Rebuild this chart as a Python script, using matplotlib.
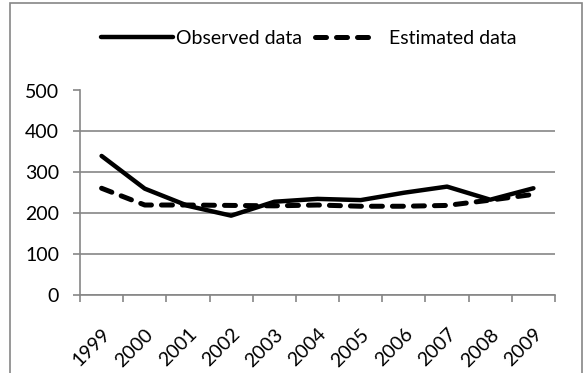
import matplotlib
matplotlib.use("Agg")
import matplotlib.pyplot as plt
import matplotlib.transforms as mtransforms
from matplotlib.patches import Rectangle
from matplotlib.lines import Line2D
import numpy as np

years = ["1999", "2000", "2001", "2002", "2003", "2004", "2005", "2006", "2007", "2008", "2009"]
observed = [340, 260, 218, 194, 228, 235, 232, 250, 265, 233, 261]
estimated = [261, 220, 220, 219, 218, 220, 217, 217, 219, 232, 246]
yticks = [0, 100, 200, 300, 400, 500]

plt.rcParams['font.family'] = ['Lato', 'DejaVu Sans']
FS = 14
W, H = 587, 373
fig = plt.figure(figsize=(W / 100, H / 100), dpi=100)
fig.patches.append(Rectangle((10 / W, -0.1), 572 / W, 1.1 - 3 / H, transform=fig.transFigure,
                             fill=False, edgecolor='#868686', linewidth=1.2))

ax = fig.add_axes([80 / W, (H - 295) / H, (555 - 80) / W, (295 - 90.5) / H])
x = np.arange(len(years))
ax.plot(x, observed, color='black', lw=3.2, solid_capstyle='round', solid_joinstyle='round')
ax.plot(x, estimated, color='black', lw=3.6, linestyle=(0, (2.2, 2.0)), dash_capstyle='round')

ax.set_xlim(-0.5, len(years) - 0.5)
ax.set_ylim(0, 500)
ax.set_yticks(yticks)
ax.set_yticklabels([str(v) for v in yticks], fontsize=FS)
ax.set_xticks(x)
ax.set_xticklabels(years, rotation=45, ha='right', rotation_mode='anchor', fontsize=FS)
offset = mtransforms.ScaledTranslation(-3 / 100, 0, fig.dpi_scale_trans)
for lab in ax.get_xticklabels():
    lab.set_transform(lab.get_transform() + offset)
ax.set_xticks(np.arange(-0.5, len(years)), minor=True)
ax.tick_params(axis='x', which='major', length=0, pad=22)
ax.tick_params(axis='x', which='minor', length=5, color='#868686', width=1.2, direction='out')
ax.tick_params(axis='y', length=5, color='#868686', width=1.2, pad=10)

ax.grid(axis='y', color='#868686', lw=1.2)
ax.set_axisbelow(True)
for s in ['top', 'right']:
    ax.spines[s].set_visible(False)
for s in ['left', 'bottom']:
    ax.spines[s].set_color('#868686')
    ax.spines[s].set_linewidth(1.2)

h_obs = Line2D([], [], color='black', lw=3.2, solid_capstyle='round')
h_est = Line2D([], [], color='black', lw=3.6, dash_capstyle='round',
               linestyle=(0, (2.2, 2.0, 2.2, 2.0, 2.2, 4.2)))
fig.legend([h_obs, h_est], ['Observed data', 'Estimated data'], loc='center',
           bbox_to_anchor=(309 / W, (H - 38) / H), ncol=2, frameon=False,
           fontsize=FS, handlelength=3.7, handletextpad=0.15, columnspacing=0.65)

fig.savefig('out.png', dpi=100)
